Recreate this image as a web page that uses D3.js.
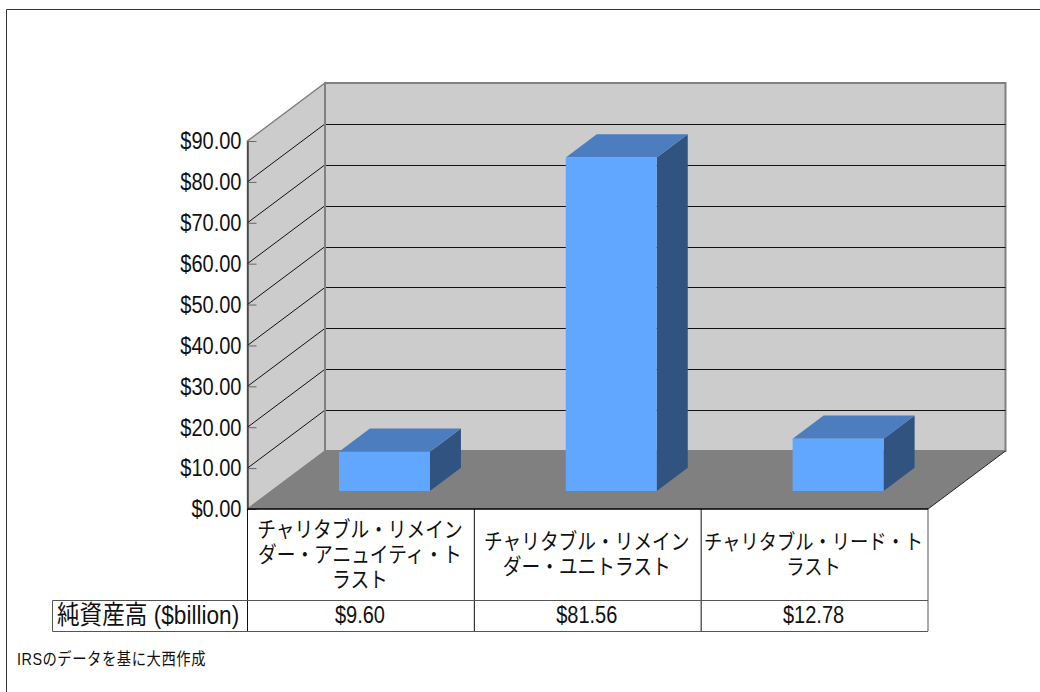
<!DOCTYPE html>
<html lang="ja">
<head>
<meta charset="utf-8">
<script src="https://cdn.jsdelivr.net/npm/d3@7"></script>
<style>
  html, body { margin: 0; padding: 0; background: #fff; }
  svg { display: block; }
  text { font-family: "Liberation Sans", "Noto Sans CJK JP", sans-serif; fill: #111; }
</style>
</head>
<body>
<svg id="chart" width="1040" height="692"></svg>
<script>
// Net assets by trust type, in billions of dollars
const categories = ["crt-annuity", "crt-unitrust", "clt"];
const categoryLines = [
  ["チャリタブル・リメイン", "ダー・アニュイティ・ト", "ラスト"],
  ["チャリタブル・リメイン", "ダー・ユニトラスト"],
  ["チャリタブル・リード・ト", "ラスト"]
];
const netAssets = [9.60, 81.56, 12.78];
const valueLabels = ["$9.60", "$81.56", "$12.78"];
const yTicks = [0, 10, 20, 30, 40, 50, 60, 70, 80, 90];
const rowTitle = "純資産高 ($billion)";
const sourceNote = "IRSのデータを基に大西作成";

const svg = d3.select("#chart");

const x = d3.scaleBand().domain(categories).range([247.5, 928]).paddingInner(0).paddingOuter(0);
const y = d3.scaleLinear().domain([0, 90]).range([509, 141]);
// Oblique projection: depth 0 is the front plane, depth 1 the back wall
const depth = d3.scaleLinear().domain([0, 1]);
const dx = depth.copy().range([0, 77.5]);
const dy = depth.copy().range([0, -58]);
const project = (px, value, z) => [px + dx(z), y(value) + dy(z)];
const polyPath = pts => "M" + pts.map(p => p.join(",")).join("L") + "Z";

const colors = { wall: "#cccccc", floor: "#808080", edge: "#808080",
                 front: "#62a7ff", top: "#4b7dbf", side: "#30547f" };

const x0 = x.range()[0], x1 = x.range()[1];
const yMax = yTicks[yTicks.length - 1];

// All labels use a horizontally condensed face
const condense = 0.87;
const placeText = (sel, px, py) => sel.attr("transform", `translate(${px},${py}) scale(${condense},1)`);

// Page frame, open on the right and at the bottom
svg.append("path").attr("d", "M6.5,692V9.5H1040").attr("fill", "none").attr("stroke", "#333").attr("stroke-width", 1);

// Walls and floor
const box = svg.append("g");
box.append("path")
  .attr("d", polyPath([project(x0, 0, 1), project(x0, yMax, 1), project(x1, yMax, 1), project(x1, 0, 1)]))
  .attr("fill", colors.wall).attr("stroke", colors.edge).attr("stroke-width", 2);
box.append("path")
  .attr("d", polyPath([project(x0, 0, 0), project(x0, yMax, 0), project(x0, yMax, 1), project(x0, 0, 1)]))
  .attr("fill", colors.wall).attr("stroke", colors.edge).attr("stroke-width", 1.5);
box.append("path")
  .attr("d", polyPath([project(x0, 0, 0), project(x0, 0, 1), project(x1, 0, 1), project(x1, 0, 0)]))
  .attr("fill", colors.floor);

// Gridlines: diagonal along the side wall, level across the back wall
const gridValues = yTicks.slice(1, -1);
box.selectAll("line.side").data(gridValues).join("line")
  .attr("class", "side")
  .attr("x1", v => project(x0, v, 0)[0]).attr("y1", v => project(x0, v, 0)[1])
  .attr("x2", v => project(x0, v, 1)[0]).attr("y2", v => project(x0, v, 1)[1])
  .attr("stroke", "#111").attr("stroke-width", 1);
box.selectAll("line.back").data(gridValues).join("line")
  .attr("class", "back")
  .attr("x1", v => project(x0, v, 1)[0]).attr("x2", v => project(x1, v, 1)[0])
  .attr("y1", v => Math.round(project(x0, v, 1)[1]) + 0.5).attr("y2", v => Math.round(project(x0, v, 1)[1]) + 0.5)
  .attr("stroke", "#111").attr("stroke-width", 1);

// Redraw the back-wall corner over the gridlines
box.append("path")
  .attr("d", "M" + project(x0, 0, 1).join(",") + "L" + project(x0, yMax, 1).join(","))
  .attr("stroke", colors.edge).attr("stroke-width", 2);
box.append("path")
  .attr("d", "M" + project(x0, 0, 1).join(",") + "L" + project(x1, 0, 1).join(","))
  .attr("stroke", colors.edge).attr("stroke-width", 2);

// Value axis on the front-left edge
const axis = d3.axisLeft(y).tickValues(yTicks).tickSize(0).tickPadding(6).tickFormat(d3.format("$.2f"));
const axisG = svg.append("g").attr("transform", `translate(${x0},0)`).call(axis);
axisG.attr("font-family", null);
axisG.select(".domain").attr("stroke", "#111").attr("stroke-width", 1);
axisG.selectAll("text").attr("font-size", 23).attr("x", 0).attr("dy", "0.34em")
  .attr("transform", `translate(-6,0) scale(${condense},1)`);
axisG.selectAll(".tick").append("line").attr("x1", 0).attr("x2", 9).attr("stroke", "#666").attr("stroke-width", 1);

// Bars as three visible faces of a box
const zNear = 0.31, zFar = 0.71, barWidth = 91;
const bars = svg.append("g").selectAll("g").data(categories).join("g");
const bx = (c) => x(c) + x.bandwidth() / 2 - barWidth / 2 - 0.5;
const val = (i) => netAssets[i];
bars.append("path").attr("fill", colors.side)
  .attr("d", (c, i) => polyPath([
    project(bx(c) + barWidth, 0, zNear), project(bx(c) + barWidth, val(i), zNear),
    project(bx(c) + barWidth, val(i), zFar), project(bx(c) + barWidth, 0, zFar)]));
bars.append("path").attr("fill", colors.top)
  .attr("d", (c, i) => polyPath([
    project(bx(c), val(i), zNear), project(bx(c) + barWidth, val(i), zNear),
    project(bx(c) + barWidth, val(i), zFar), project(bx(c), val(i), zFar)]));
bars.append("path").attr("fill", colors.front)
  .attr("d", (c, i) => polyPath([
    project(bx(c), 0, zNear), project(bx(c) + barWidth, 0, zNear),
    project(bx(c) + barWidth, val(i), zNear), project(bx(c), val(i), zNear)]));

// Floor's open right edge
svg.append("path")
  .attr("d", "M" + project(x1, 0, 0).join(",") + "L" + project(x1, 0, 1).join(","))
  .attr("stroke", "#222").attr("stroke-width", 1);

// Data table beneath the plot
const table = svg.append("g");
const rowTop = y(0), rowMid = 600, rowBottom = 631, titleLeft = 52;
const tableEdges = x.domain().map(c => x(c)).concat([x1]);
table.selectAll("line.col").data(tableEdges).join("line")
  .attr("class", "col")
  .attr("x1", d => d).attr("x2", d => d)
  .attr("y1", rowTop).attr("y2", rowBottom)
  .attr("stroke", (d, i) => i === tableEdges.length - 1 ? "#555" : "#111").attr("stroke-width", 1);
table.append("line").attr("x1", x0).attr("x2", x1).attr("y1", rowTop).attr("y2", rowTop)
  .attr("stroke", "#000").attr("stroke-width", 1.6);
table.append("path")
  .attr("d", `M${x1},${rowMid + 0.5}H${titleLeft + 0.5}V${rowBottom + 0.5}H${x1}`)
  .attr("fill", "none").attr("stroke", "#555").attr("stroke-width", 1);

const lineStep = 25;
categories.forEach((c, i) => {
  const lines = categoryLines[i];
  const firstY = lines.length === 3 ? 537 : 549;
  table.selectAll(null).data(lines).join("text")
    .attr("text-anchor", "middle")
    .attr("font-size", i === 2 ? 21 : 21.5)
    .each(function (d, j) { placeText(d3.select(this), x(c) + x.bandwidth() / 2 - 1, firstY + j * lineStep); })
    .text(d => d);
});
table.selectAll("text.val").data(categories).join("text")
  .attr("class", "val")
  .attr("text-anchor", "middle")
  .attr("font-size", 23)
  .each(function (c) { placeText(d3.select(this), x(c) + x.bandwidth() / 2 - 1, 623); })
  .text((c, i) => valueLabels[i]);
placeText(table.append("text"), 57, 624).attr("font-size", 26).text(rowTitle);

placeText(svg.append("text"), 17, 665).attr("font-size", 16.5).attr("letter-spacing", 0.6).text(sourceNote);
</script>
</body>
</html>
